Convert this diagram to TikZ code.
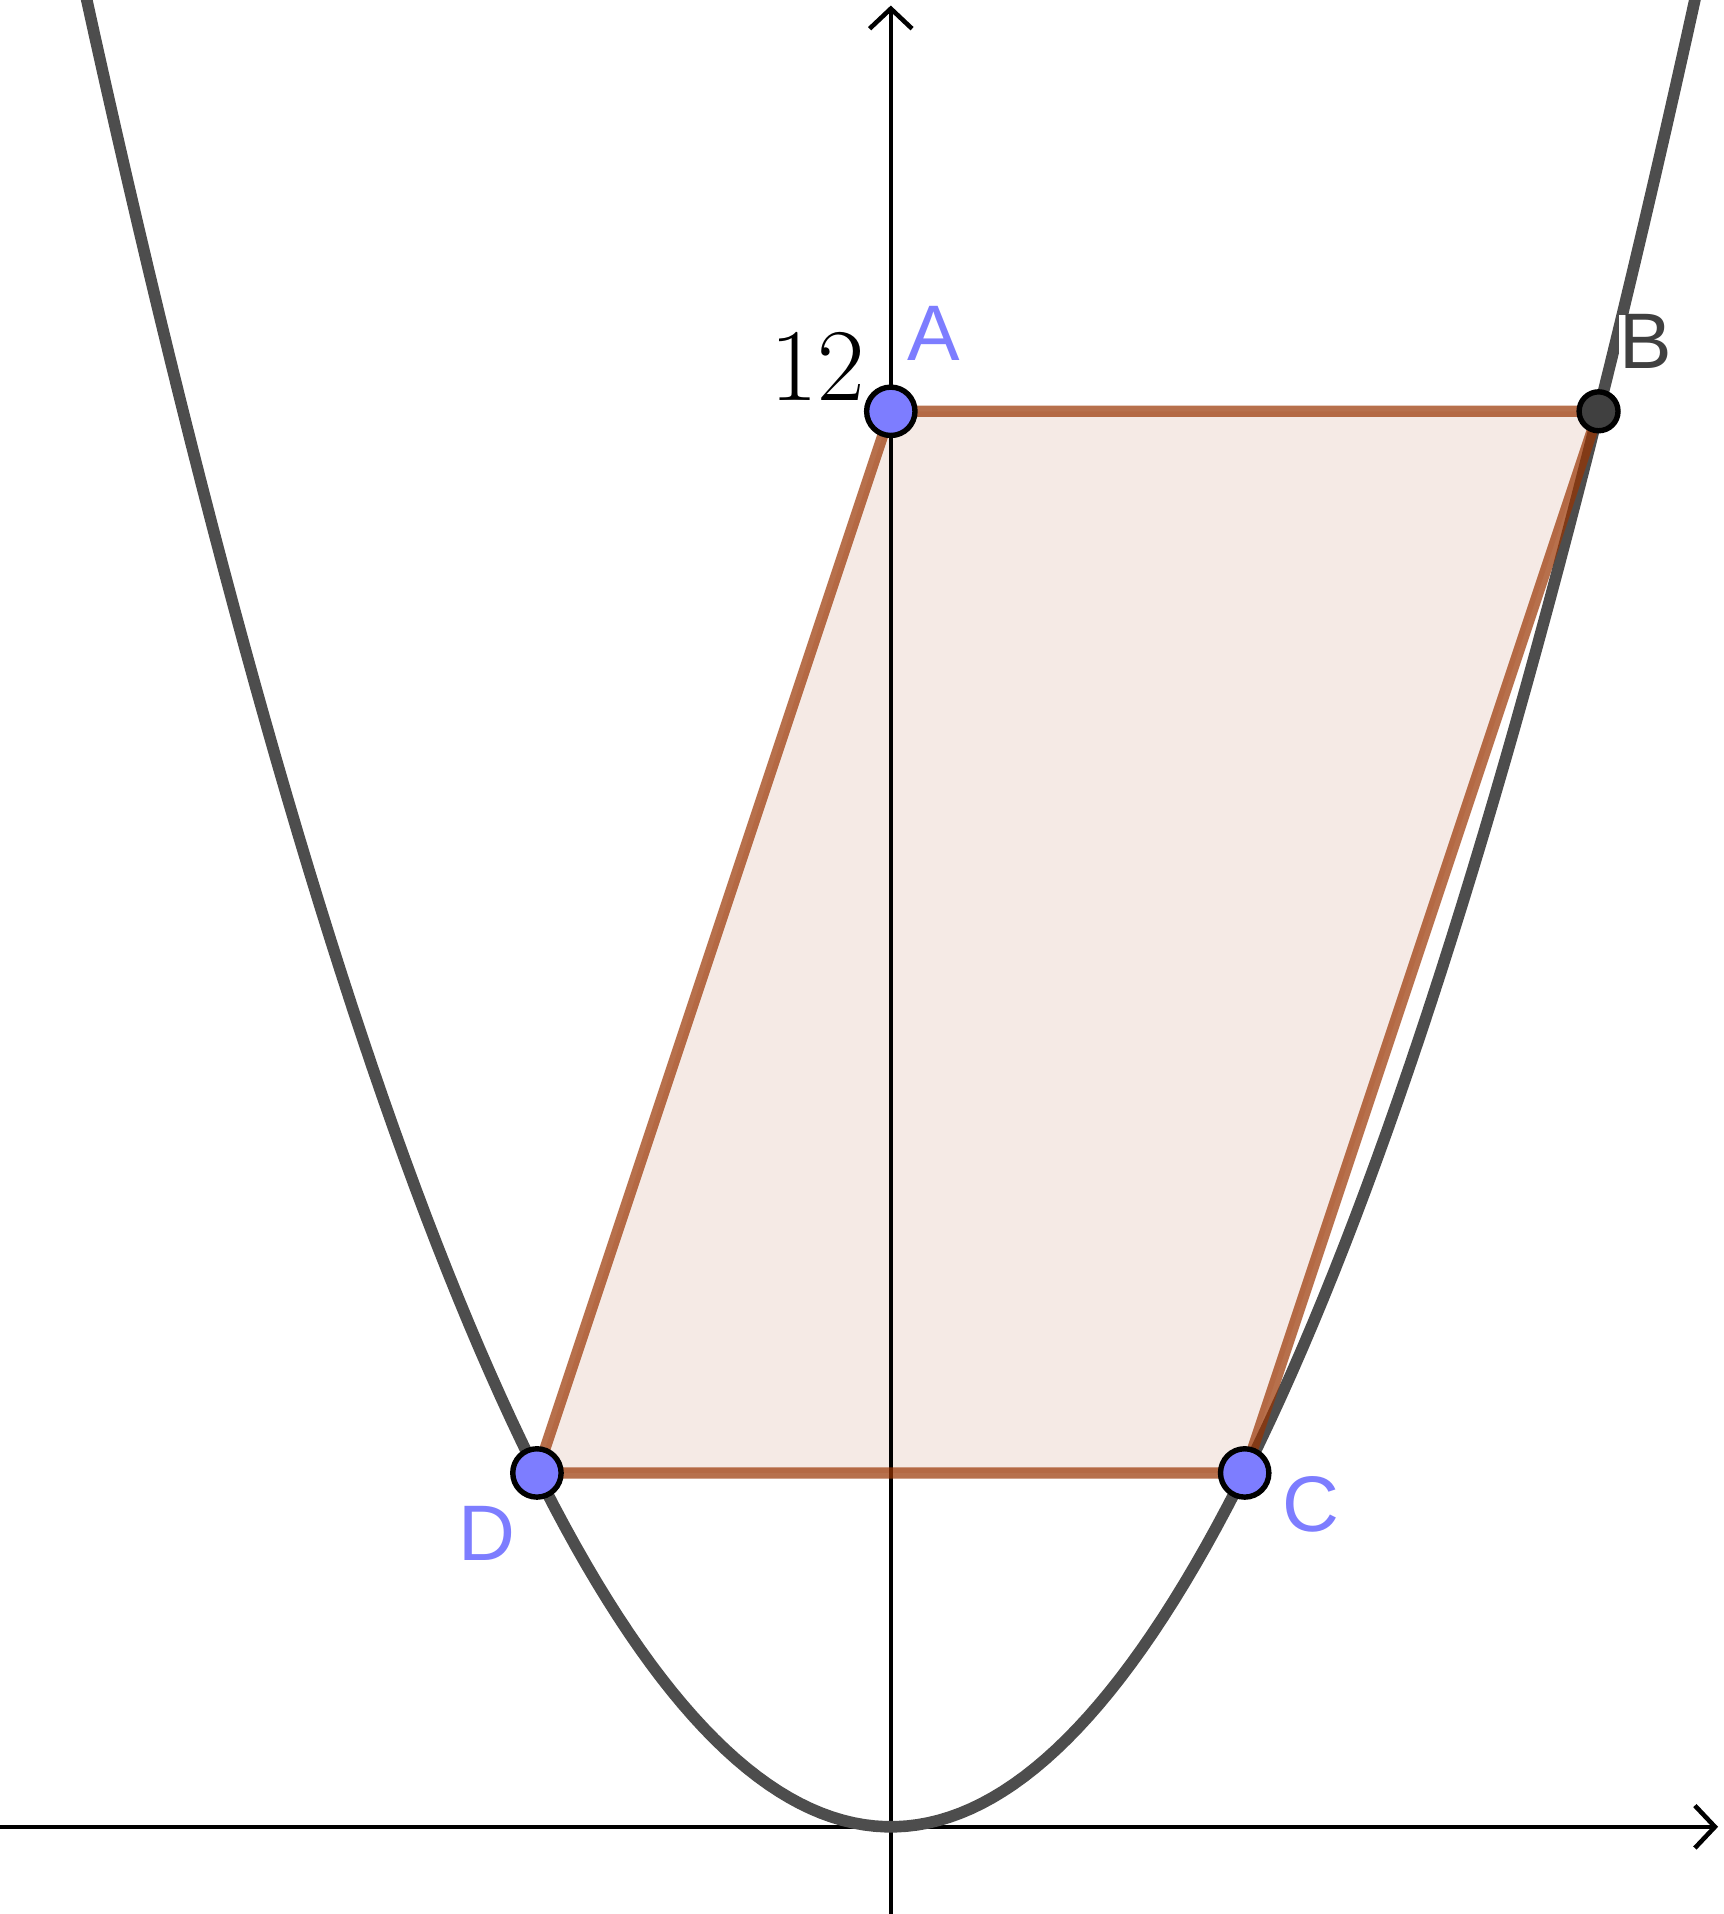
\documentclass[tikz,border=0pt]{standalone}
\usepackage{fontspec}
\setsansfont{Liberation Sans}
\usetikzlibrary{arrows.meta}
\definecolor{CurveGray}{RGB}{77,77,77}
\definecolor{PointBlue}{RGB}{125,125,255}
\definecolor{PointDark}{RGB}{64,64,64}
\definecolor{EdgeBrown}{RGB}{153,51,0}
\begin{document}
\begin{tikzpicture}[
    pt/.style={circle,draw=black,line width=1.3pt,fill=PointBlue,
               minimum size=0.41cm,inner sep=0pt},
    ptdark/.style={pt,fill=PointDark,minimum size=0.33cm},
    lbl/.style={font=\sffamily\fontsize{19}{19}\selectfont,text=PointBlue,inner sep=0pt},
    axis/.style={line width=1.1pt,-{Straight Barb[length=0.17cm,width=0.36cm,line width=1.1pt]}},
    polyedge/.style={draw=EdgeBrown,draw opacity=0.7,line width=2.7pt,line join=round}
  ]
  \useasboundingbox (-7.552,-0.739) rectangle (7.055,15.487);
  \clip (-7.552,-0.739) rectangle (7.055,15.487);
  % Vertices
  \coordinate (A) at (0,12);
  \coordinate (B) at (6,12);
  \coordinate (C) at (3,3);
  \coordinate (D) at (-3,3);
  % Axes
  \coordinate (xl) at (-7.552,0);
  \coordinate (xr) at (7.013,0);
  \coordinate (yb) at (0,-0.739);
  \coordinate (yt) at (0,15.44);
  % Fill
  \fill[EdgeBrown,fill opacity=0.1] (A)--(B)--(C)--(D)--cycle;
  \draw[axis] (xl) -- (xr);
  \draw[axis] (yb) -- (yt);
  % Parabola
  \draw[CurveGray,line width=2.8pt,domain=-7.2:7.2,samples=160] plot (\x,{\x*\x/3});
  % Parallelogram
  \draw[polyedge] (A)--(B)--(C)--(D)--cycle;
  % Points
  \node[pt] (dotA) at (A) {};
  \node[ptdark] (dotB) at (B) {};
  \node[pt] (dotC) at (C) {};
  \node[pt] (dotD) at (D) {};
  % Labels
  \node[lbl] (labA) at (0.36,12.66) {A};
  \node[lbl,text=PointDark,fill=white,inner sep=0pt] (labB) at (6.40,12.59) {B};
  \node[lbl] (labC) at (3.56,2.73) {C};
  \node[lbl] (labD) at (-3.42,2.49) {D};
  \node[font=\fontsize{24}{24}\selectfont,inner sep=0pt] (tick) at (-0.62,12.37) {$12$};
\end{tikzpicture}
\end{document}
